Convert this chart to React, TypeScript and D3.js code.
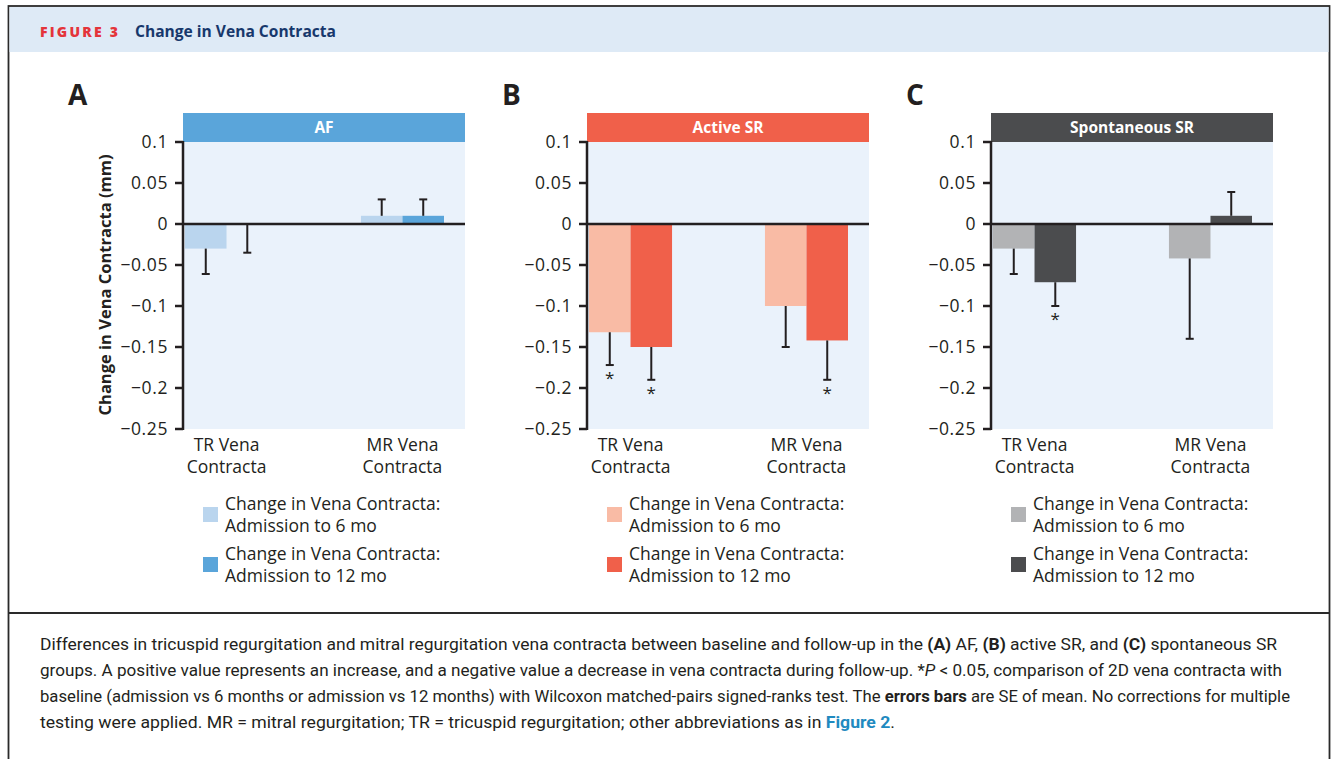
import React from "react";
import * as d3 from "d3";

// ---------- data ----------
const categories = ["TR Vena Contracta", "MR Vena Contracta"];
const categoryLines = [
  ["TR Vena", "Contracta"],
  ["MR Vena", "Contracta"],
];
const seriesLabels = [
  ["Change in Vena Contracta:", "Admission to 6 mo"],
  ["Change in Vena Contracta:", "Admission to 12 mo"],
];
const yTicks = [0.1, 0.05, 0, -0.05, -0.1, -0.15, -0.2, -0.25];

// Panel A – AF
const afSix = [-0.03, 0.01];
const afSixSE = [0.031, 0.02];
const afTwelve = [-0.001, 0.01];
const afTwelveSE = [0.034, 0.02];
const afSixSig = [false, false];
const afTwelveSig = [false, false];

// Panel B – Active SR
const activeSix = [-0.132, -0.1];
const activeSixSE = [0.04, 0.05];
const activeTwelve = [-0.15, -0.142];
const activeTwelveSE = [0.04, 0.048];
const activeSixSig = [true, false];
const activeTwelveSig = [true, true];

// Panel C – Spontaneous SR
const sponSix = [-0.03, -0.042];
const sponSixSE = [0.031, 0.098];
const sponTwelve = [-0.071, 0.01];
const sponTwelveSE = [0.029, 0.029];
const sponSixSig = [false, false];
const sponTwelveSig = [true, false];

const panelLetters = ["A", "B", "C"];
const stripTitles = ["AF", "Active SR", "Spontaneous SR"];

// ---------- styles ----------
const INK = "#231f20";
const FONT = "'Open Sans', 'Noto Sans', sans-serif";
const TEXT_W = 500;
const panelStyles = [
  { strip: "#5aa5da", light: "#bad5ee", dark: "#5aa5da" },
  { strip: "#f0604a", light: "#f9bba5", dark: "#f0604a" },
  { strip: "#4b4c4e", light: "#b2b3b5", dark: "#4b4c4e" },
];
const axisX = [183, 587, 991];
const letterX = [68, 502, 906];
const PLOT_W = 281;
const Y_TOP = 142;
const Y_BOT = 429;

const panelsData = [
  { six: afSix, sixSE: afSixSE, twelve: afTwelve, twelveSE: afTwelveSE, sixSig: afSixSig, twelveSig: afTwelveSig },
  { six: activeSix, sixSE: activeSixSE, twelve: activeTwelve, twelveSE: activeTwelveSE, sixSig: activeSixSig, twelveSig: activeTwelveSig },
  { six: sponSix, sixSE: sponSixSE, twelve: sponTwelve, twelveSE: sponTwelveSE, sixSig: sponSixSig, twelveSig: sponTwelveSig },
];

const y = d3.scaleLinear().domain([-0.25, 0.1]).range([Y_BOT, Y_TOP]);
const fmt = (v: number) => {
  if (v === 0) return "0";
  const s = String(Math.abs(v));
  return v < 0 ? "\u2212" + s : s;
};

function Panel({ i }: { i: number }) {
  const x0 = axisX[i];
  const st = panelStyles[i];
  const d = panelsData[i];
  const xBand = d3
    .scaleBand<string>()
    .domain(categories)
    .range([x0 + 2, x0 + 2 + 259])
    .paddingInner(0.528)
    .paddingOuter(0);
  const xSub = d3
    .scaleBand<string>()
    .domain(["six", "twelve"])
    .range([0, xBand.bandwidth()])
    .padding(0);
  const series = [
    { key: "six", vals: d.six, se: d.sixSE, sig: d.sixSig, color: st.light },
    { key: "twelve", vals: d.twelve, se: d.twelveSE, sig: d.twelveSig, color: st.dark },
  ];
  const y0 = y(0);
  return (
    <g>
      <text x={letterX[i]} y={105} fontFamily={FONT} fontWeight={700} fontSize={28} fill={INK}>
        {panelLetters[i]}
      </text>
      <rect x={x0} y={113} width={PLOT_W + 1} height={29} fill={st.strip} />
      <text x={x0 + (PLOT_W + 1) / 2} y={133} textAnchor="middle" fontFamily={FONT} fontWeight={700} fontSize={15.5} fill="#fff">
        {stripTitles[i]}
      </text>
      <rect x={x0} y={Y_TOP} width={PLOT_W + 1} height={Y_BOT - Y_TOP} fill="#eaf2fb" />
      {series.map((s) =>
        categories.map((c, ci) => {
          const v = s.vals[ci];
          const bx = (xBand(c) as number) + (xSub(s.key) as number);
          const bw = xSub.bandwidth();
          const top = Math.min(y(v), y0);
          const h = Math.abs(y(v) - y0);
          const cx = bx + bw / 2;
          const dir = v >= 0 ? 1 : -1;
          const errEnd = y(v + dir * s.se[ci]);
          return (
            <g key={s.key + c}>
              <rect x={bx} y={top} width={bw} height={h} fill={s.color} />
              <line x1={cx} x2={cx} y1={y(v)} y2={errEnd} stroke={INK} strokeWidth={2} />
              <line x1={cx - 4} x2={cx + 4} y1={errEnd} y2={errEnd} stroke={INK} strokeWidth={2} />
              {s.sig[ci] && (
                <text x={cx} y={errEnd + 19} textAnchor="middle" fontFamily={FONT} fontSize={17} fontWeight={TEXT_W} fill={INK}>
                  *
                </text>
              )}
            </g>
          );
        })
      )}
      <line x1={x0} x2={x0 + PLOT_W + 1} y1={y0} y2={y0} stroke={INK} strokeWidth={2.5} />
      <line x1={x0} x2={x0} y1={Y_TOP - 1} y2={Y_BOT + 1} stroke={INK} strokeWidth={2.5} />
      {yTicks.map((t) => (
        <g key={t}>
          <line x1={x0 - 8} x2={x0} y1={y(t)} y2={y(t)} stroke={INK} strokeWidth={2.5} />
          <text
            x={x0 - 15}
            y={y(t)}
            dy="0.36em"
            textAnchor="end"
            fontFamily={FONT}
            fontSize={17.5}
            fontWeight={TEXT_W}
            letterSpacing={0.6}
            fill={INK}
          >
            {fmt(t)}
          </text>
        </g>
      ))}
      {categories.map((c, ci) => {
        const cx = (xBand(c) as number) + xBand.bandwidth() / 2;
        return (
          <g key={c}>
            <text x={cx} y={451} textAnchor="middle" fontFamily={FONT} fontSize={17.5} fontWeight={TEXT_W} fill={INK}>
              {categoryLines[ci][0]}
            </text>
            <text x={cx} y={473} textAnchor="middle" fontFamily={FONT} fontSize={17.5} fontWeight={TEXT_W} fill={INK}>
              {categoryLines[ci][1]}
            </text>
          </g>
        );
      })}
      {series.map((s, si) => {
        const ly = 507 + si * 50;
        return (
          <g key={"lg" + si}>
            <rect x={x0 + 20} y={ly} width={15} height={15} fill={s.color} />
            <text x={x0 + 42} y={ly + 3} fontFamily={FONT} fontSize={17.5} fontWeight={TEXT_W} fill={INK}>
              {seriesLabels[si][0]}
            </text>
            <text x={x0 + 42} y={ly + 25} fontFamily={FONT} fontSize={17.5} fontWeight={TEXT_W} fill={INK}>
              {seriesLabels[si][1]}
            </text>
          </g>
        );
      })}
    </g>
  );
}

export default function App() {
  const capFont = "Roboto, 'Open Sans', sans-serif";
  return (
    <div style={{ position: "absolute", left: 0, top: 0 }}>
      <svg width={1336} height={759} style={{ display: "block" }}>
        <rect x={0} y={0} width={1336} height={759} fill="#fff" />
        <rect x={8.5} y={6} width={1321} height={780} fill="#fff" stroke="#2a2a2a" strokeWidth={1.8} />
        <rect x={9.5} y={7} width={1319} height={45} fill="#deeaf6" />
        <text x={40} y={37} fontFamily={FONT} fontWeight={800} fontSize={14} letterSpacing={2} fill="#e4343a" textLength={80} lengthAdjust="spacing">
          FIGURE 3
        </text>
        <text x={135} y={37} fontFamily={FONT} fontWeight={700} fontSize={16} fill="#17386c" textLength={201} lengthAdjust="spacingAndGlyphs">
          Change in Vena Contracta
        </text>
        <text
          transform="translate(111,285) rotate(-90)"
          textAnchor="middle"
          fontFamily={FONT}
          fontWeight={700}
          fontSize={16.5}
          fill={INK}
        >
          Change in Vena Contracta (mm)
        </text>
        {[0, 1, 2].map((i) => (
          <Panel key={i} i={i} />
        ))}
        <line x1={8} x2={1330} y1={613} y2={613} stroke="#2a2a2a" strokeWidth={1.8} />
        <g fontFamily={capFont} fontSize={16} fill={INK}>
          <text x={40} y={650} textLength={1237} lengthAdjust="spacingAndGlyphs">
            Differences in tricuspid regurgitation and mitral regurgitation vena contracta between baseline and follow-up in the{" "}
            <tspan fontWeight={700}>(A)</tspan> AF, <tspan fontWeight={700}>(B)</tspan> active SR, and{" "}
            <tspan fontWeight={700}>(C)</tspan> spontaneous SR
          </text>
          <text x={40} y={676} textLength={1242} lengthAdjust="spacingAndGlyphs">
            groups. A positive value represents an increase, and a negative value a decrease in vena contracta during follow-up. *
            <tspan fontStyle="italic">P</tspan> {"<"} 0.05, comparison of 2D vena contracta with
          </text>
          <text x={40} y={702} textLength={1250} lengthAdjust="spacingAndGlyphs">
            baseline (admission vs 6 months or admission vs 12 months) with Wilcoxon matched-pairs signed-ranks test. The{" "}
            <tspan fontWeight={700}>errors bars</tspan> are SE of mean. No corrections for multiple
          </text>
          <text x={40} y={728} textLength={855} lengthAdjust="spacingAndGlyphs">
            testing were applied. MR = mitral regurgitation; TR = tricuspid regurgitation; other abbreviations as in{" "}
            <tspan fontWeight={700} fill="#1f8ac0">Figure 2</tspan>.
          </text>
        </g>
      </svg>
    </div>
  );
}
